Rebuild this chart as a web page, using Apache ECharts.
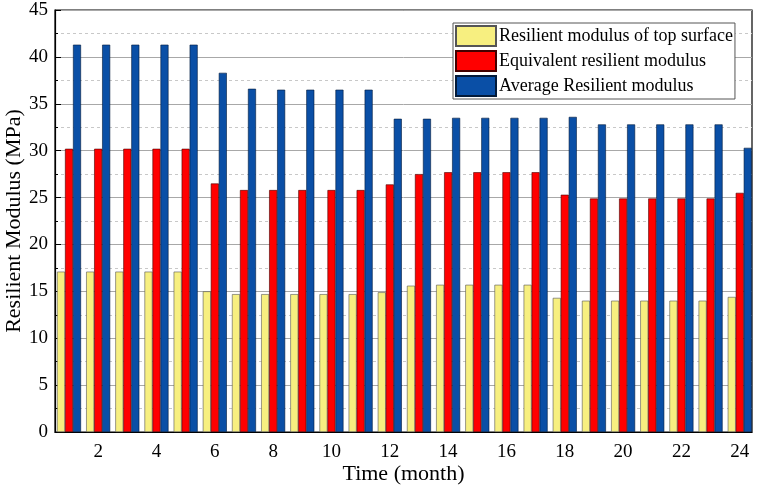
<!DOCTYPE html>
<html>
<head>
<meta charset="utf-8">
<script src="https://cdn.jsdelivr.net/npm/echarts@6/dist/echarts.min.js"></script>
<style>html,body{margin:0;padding:0;background:#fff}#c{width:759px;height:492px}</style>
</head>
<body>
<div id="c"></div>
<script>
const months = [1,2,3,4,5,6,7,8,9,10,11,12,13,14,15,16,17,18,19,20,21,22,23,24];
const topSurface = [17.1,17.1,17.1,17.1,17.1,15.0,14.7,14.7,14.7,14.7,14.7,14.9,15.6,15.7,15.7,15.7,15.7,14.3,14.0,14.0,14.0,14.0,14.0,14.4];
const equivalent = [30.2,30.2,30.2,30.2,30.2,26.5,25.8,25.8,25.8,25.8,25.8,26.4,27.5,27.7,27.7,27.7,27.7,25.3,24.9,24.9,24.9,24.9,24.9,25.5];
const average = [41.3,41.3,41.3,41.3,41.3,38.3,36.6,36.5,36.5,36.5,36.5,33.4,33.4,33.5,33.5,33.5,33.5,33.6,32.8,32.8,32.8,32.8,32.8,30.3];
const xTickLabels = [2,4,6,8,10,12,14,16,18,20,22,24];
const seriesNames = ['Resilient modulus of top surface','Equivalent resilient modulus','Average Resilient modulus'];

const font = 'Liberation Serif, Times New Roman, serif';
const pair = arr => months.map((m,i)=>[m, arr[i]]);
const chart = echarts.init(document.getElementById('c'), null, {renderer:'canvas'});
chart.setOption({
  animation:false,
  backgroundColor:'#fff',
  textStyle:{fontFamily:font, color:'#000'},
  grid:{left:55, right:7, top:10, bottom:60, outerBoundsMode:'none', containLabel:false,
        show:true, borderColor:'#000', borderWidth:1.2, backgroundColor:'transparent'},
  legend:{
    orient:'vertical', left:453, top:23,
    icon:'rect',
    itemWidth:40, itemHeight:20, itemGap:3,
    padding:[2,2,2,2],
    backgroundColor:'#fff', borderColor:'#555', borderWidth:1,
    textStyle:{fontFamily:font, fontSize:18, color:'#000', padding:[0,0,0,-2]},
    data:seriesNames
  },
  xAxis:{
    type:'value', min:0.52, max:24.42,
    name:'Time (month)', nameLocation:'middle', nameGap:31, nameMoveOverlap:false,
    nameTextStyle:{fontFamily:font, fontSize:22, color:'#000'},
    axisLine:{show:true, lineStyle:{color:'#000', width:1.2}},
    axisTick:{show:false},
    splitLine:{show:false},
    axisLabel:{customValues:xTickLabels, fontFamily:font, fontSize:19, color:'#000', margin:11}
  },
  yAxis:{
    type:'value', min:0, max:45, interval:5,
    name:'Resilient Modulus (MPa)', nameLocation:'middle', nameGap:30, nameMoveOverlap:false,
    nameTextStyle:{fontFamily:font, fontSize:22, color:'#000'},
    axisLine:{show:true, lineStyle:{color:'#000', width:1.2}},
    axisTick:{show:true, inside:true, length:6, lineStyle:{color:'#000'}},
    minorTick:{show:true, splitNumber:2, length:3, lineStyle:{color:'#000'}},
    splitLine:{show:true, lineStyle:{color:'#a8a8a8', width:1}},
    minorSplitLine:{show:true, lineStyle:{color:'#c8c8c8', type:[3,3], width:1}},
    axisLabel:{fontFamily:font, fontSize:19, color:'#000', margin:7}
  },
  series:[
    {name:seriesNames[0], type:'bar', data:pair(topSurface), barWidth:8, barGap:'0%',
     itemStyle:{color:'#f7ef80', borderColor:'#555', borderWidth:0.6}},
    {name:seriesNames[1], type:'bar', data:pair(equivalent), barWidth:8, barGap:'0%',
     itemStyle:{color:'#ff0000', borderColor:'#400', borderWidth:0.6}},
    {name:seriesNames[2], type:'bar', data:pair(average), barWidth:8, barGap:'0%',
     itemStyle:{color:'#0a4fa6', borderColor:'#021a3a', borderWidth:0.6}}
  ]
});
</script>
</body>
</html>
